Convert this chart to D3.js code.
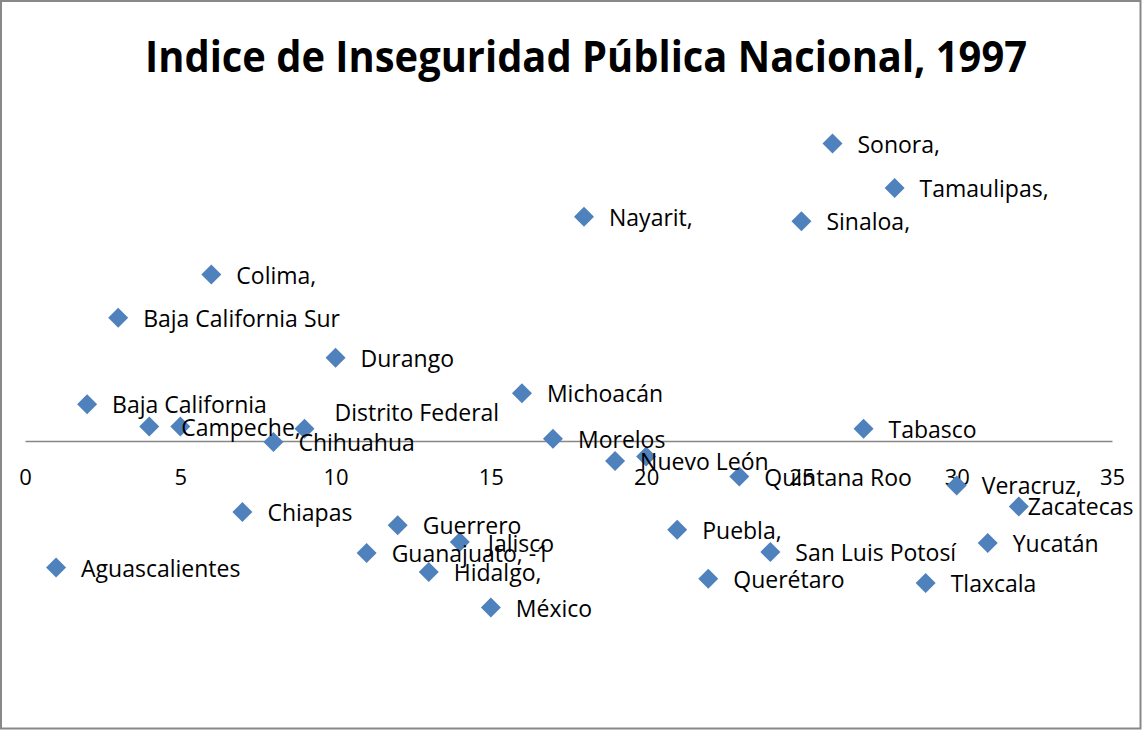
<!DOCTYPE html>
<html lang="es">
<head>
    <meta charset="UTF-8">
    <title>Indice de Inseguridad Pública Nacional, 1997</title>
    <script src="https://d3js.org/d3.v7.min.js"></script>
    <style>
        body {
            margin: 0;
            background-color: #ffffff;
            font-family: "Open Sans", "Noto Sans", sans-serif;
        }
        .label {
            font-size: 23px;
            fill: #000;
        }
        .x-axis text {
            font-size: 22px;
            fill: #000;
            font-family: "Open Sans", "Noto Sans", sans-serif;
        }
    </style>
</head>
<body>
    <svg id="chart"></svg>

    <script>
        // estados en orden (x = 1..32)
        const states = [
            "Aguascalientes", "Baja California", "Baja California Sur", "Campeche", "Coahuila",
            "Colima", "Chiapas", "Chihuahua", "Distrito Federal", "Durango",
            "Guanajuato", "Guerrero", "Hidalgo", "Jalisco", "México",
            "Michoacán", "Morelos", "Nayarit", "Nuevo León", "Oaxaca",
            "Puebla", "Querétaro", "Quintana Roo", "San Luis Potosí", "Sinaloa",
            "Sonora", "Tabasco", "Tamaulipas", "Tlaxcala", "Veracruz",
            "Yucatán", "Zacatecas"
        ];

        // texto de las etiquetas tal como aparece (vacío = sin etiqueta)
        const labels = [
            "Aguascalientes", "Baja California", "Baja California Sur", "Campeche,", "",
            "Colima,", "Chiapas", "Chihuahua", "Distrito Federal", "Durango",
            "Guanajuato, -1", "Guerrero", "Hidalgo,", "Jalisco", "México",
            "Michoacán", "Morelos", "Nayarit,", "Nuevo León", "",
            "Puebla,", "Querétaro", "Quintana Roo", "San Luis Potosí", "Sinaloa,",
            "Sonora,", "Tabasco", "Tamaulipas,", "Tlaxcala", "Veracruz,",
            "Yucatán", "Zacatecas"
        ];

        const xValues = d3.range(1, 33);

        const indexValues = [
            -1.14, 0.33, 1.11, 0.13, 0.13,
            1.50, -0.64, -0.01, 0.11, 0.75,
            -1.01, -0.76, -1.18, -0.91, -1.50,
            0.43, 0.02, 2.02, -0.18, -0.14,
            -0.80, -1.24, -0.32, -1.00, 1.98,
            2.68, 0.11, 2.28, -1.28, -0.40,
            -0.92, -0.59
        ];

        const xTicks = [0, 5, 10, 15, 20, 25, 30, 35];

        // etiquetas movidas a mano en el original
        const labelNudge = {
            "Campeche": { dx: 7, dy: 0 },
            "Distrito Federal": { dx: 5, dy: -17 },
            "Jalisco": { dx: 3, dy: 1 },
            "Zacatecas": { dx: -16, dy: 0 }
        };

        const W = 1142, H = 730;

        const svg = d3.select("#chart")
            .attr("width", W)
            .attr("height", H);

        svg.append("rect")
            .attr("x", 1)
            .attr("y", 1)
            .attr("width", W - 2.5)
            .attr("height", H - 2.5)
            .attr("fill", "#fff")
            .attr("stroke", "#888")
            .attr("stroke-width", 2);

        svg.append("text")
            .attr("x", 586)
            .attr("y", 72)
            .attr("text-anchor", "middle")
            .attr("font-size", 43)
            .attr("font-weight", "bold")
            .attr("textLength", 882)
            .attr("lengthAdjust", "spacingAndGlyphs")
            .text("Indice de Inseguridad Pública Nacional, 1997");

        const x = d3.scaleLinear()
            .domain([0, 35])
            .range([25, 1112]);

        const y = d3.scaleLinear()
            .domain([-2, 3])
            .range([663, 108]);

        const data = xValues.map((v, i) => ({
            x: v,
            y: indexValues[i],
            state: states[i],
            label: labels[i]
        }));

        const axis = svg.append("g")
            .attr("class", "x-axis")
            .attr("transform", `translate(0,${y(0)})`)
            .call(d3.axisBottom(x).tickValues(xTicks).tickSize(0).tickPadding(28));

        axis.select(".domain")
            .attr("stroke", "#878787")
            .attr("stroke-width", 1.5);

        const diamond = d3.symbol().type(d3.symbolSquare).size(200);

        svg.selectAll(".pt")
            .data(data)
            .enter().append("path")
            .attr("class", "pt")
            .attr("d", diamond)
            .attr("transform", d => `translate(${x(d.x)},${y(d.y)}) rotate(45)`)
            .attr("fill", "#4F81BD");

        svg.selectAll(".label")
            .data(data.filter(d => d.label !== ""))
            .enter().append("text")
            .attr("class", "label")
            .attr("x", d => x(d.x) + 25 + (labelNudge[d.state] ? labelNudge[d.state].dx : 0))
            .attr("y", d => y(d.y) + 9 + (labelNudge[d.state] ? labelNudge[d.state].dy : 0))
            .text(d => d.label);
    </script>
</body>
</html>
